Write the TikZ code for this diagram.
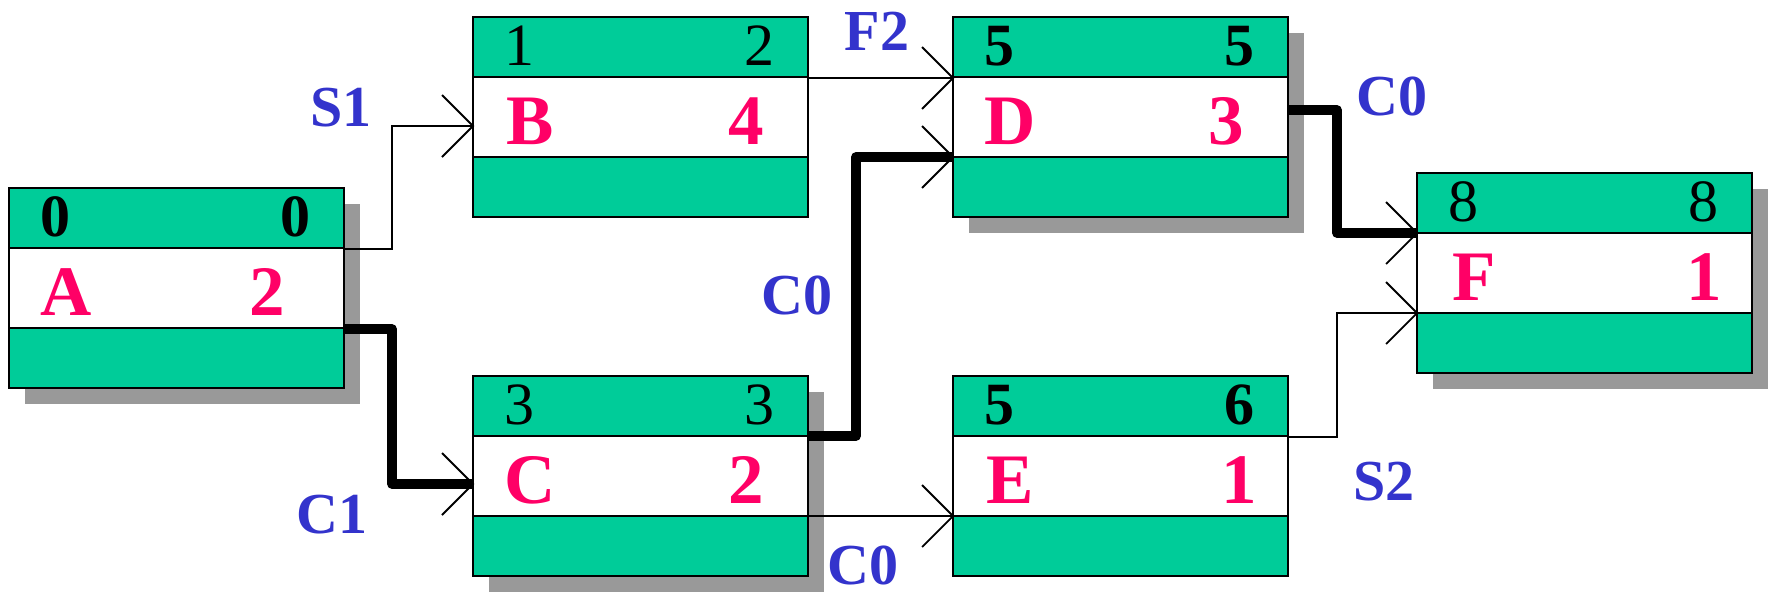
\documentclass[tikz,border=0pt]{standalone}
\usepackage{fontspec}
\setmainfont{Liberation Serif}
\usetikzlibrary{calc,shadows}
\definecolor{boxgreen}{RGB}{0,204,153}
\definecolor{shadowgrey}{RGB}{153,153,153}
\definecolor{numred}{RGB}{255,0,102}
\definecolor{lblblue}{RGB}{51,51,204}
\tikzset{
 actbox/.style={rectangle,draw=black,fill=boxgreen,line width=2.6pt,minimum width=335pt,minimum height=200pt,inner sep=0pt,outer sep=0pt},
 shadowed/.style={drop shadow={shadow xshift=16pt,shadow yshift=-16pt,fill=shadowgrey,opacity=1}},
 midrow/.style={draw=black,fill=white,line width=2.6pt},
 digit/.style={anchor=base,inner sep=0pt,font=\fontsize{60}{60}\selectfont},
 redtxt/.style={anchor=base,inner sep=0pt,text=numred,font=\fontsize{71}{71}\selectfont\bfseries},
 lbl/.style={inner sep=0pt,text=lblblue,font=\fontsize{58}{58}\selectfont\bfseries},
 thinconn/.style={line width=1.8pt},
 thickconn/.style={line width=9.5pt,line join=round},
 headline/.style={line width=1.8pt},
}
\newcommand\actbox[9]{%
 \node[actbox,#4] (#1) at (#2+167.5,#3+100) {};
 \draw[midrow] ($(#1.north west)+(0,60)$) rectangle ($(#1.north east)+(0,140)$);
 \node[digit] (#1es) at ($(#1.north west)+(46,48)$) {#5};
 \node[digit] (#1ef) at ($(#1.north west)+(286,48)$) {#6};
 \node[redtxt] (#1n) at ($(#1.north west)+(57,127)$) {#7};
 \node[redtxt] (#1d) at ($(#1.north west)+(#9,127)$) {#8};
}
\newcommand\arrowhd[1]{\draw[headline] ($(#1)+(-31,-31)$) -- (#1) -- ($(#1)+(-31,31)$);}
\begin{document}
\begin{tikzpicture}[x=1pt,y=-1pt]
\useasboundingbox (0,0) rectangle (1772,598);
\actbox{A}{9}{188}{shadowed}{\bfseries 0}{\bfseries 0}{A}{2}{258}
\actbox{B}{473}{17}{}{1}{2}{B}{4}{273}
\actbox{C}{473}{376}{shadowed}{3}{3}{C}{2}{273}
\actbox{D}{953}{17}{shadowed}{\bfseries 5}{\bfseries 5}{D}{3}{273}
\actbox{E}{953}{376}{}{\bfseries 5}{\bfseries 6}{E}{1}{286}
\actbox{F}{1417}{173}{shadowed}{8}{8}{F}{1}{287}
% connectors
\coordinate (aB) at ($(A.north east)+(0,61)$);
\coordinate (bIn) at ($(B.north west)+(0,109)$);
\draw[thinconn] (aB) -| ($(bIn)+(-81,0)$) -- (bIn);
\coordinate (aC) at ($(A.north east)+(0,141)$);
\coordinate (cIn) at ($(C.north west)+(0,108)$);
\draw[thickconn] (aC) -| ($(cIn)+(-81,0)$) -- (cIn);
\coordinate (bD) at ($(B.north east)+(0,61)$);
\coordinate (dIn1) at ($(D.north west)+(0,61)$);
\draw[thinconn] (bD) -- (dIn1);
\coordinate (cD) at ($(C.north east)+(0,60)$);
\coordinate (dIn2) at ($(D.north west)+(0,140)$);
\draw[thickconn] (cD) -| ($(dIn2)+(-97,0)$) -- (dIn2);
\coordinate (cE) at ($(C.north east)+(0,140)$);
\coordinate (eIn) at ($(E.north west)+(0,140)$);
\draw[thinconn] (cE) -- (eIn);
\coordinate (dF) at ($(D.north east)+(0,93)$);
\coordinate (fIn1) at ($(F.north west)+(0,60)$);
\draw[thickconn] (dF) -| ($(fIn1)+(-80,0)$) -- (fIn1);
\coordinate (eF) at ($(E.north east)+(0,61)$);
\coordinate (fIn2) at ($(F.north west)+(0,140)$);
\draw[thinconn] (eF) -| ($(fIn2)+(-80,0)$) -- (fIn2);
\arrowhd{bIn}\arrowhd{cIn}\arrowhd{dIn1}\arrowhd{dIn2}\arrowhd{eIn}\arrowhd{fIn1}\arrowhd{fIn2}
% labels
\node[lbl] (lS1) at (341,108) {S1};
\node[lbl] (lF2) at (877,31) {F2};
\node[lbl] (lC0a) at (1392,96) {C0};
\node[lbl] (lC0b) at (797,295) {C0};
\node[lbl] (lC1) at (332,515) {C1};
\node[lbl] (lC0c) at (863,565) {C0};
\node[lbl] (lS2) at (1384,482) {S2};
\end{tikzpicture}
\end{document}
